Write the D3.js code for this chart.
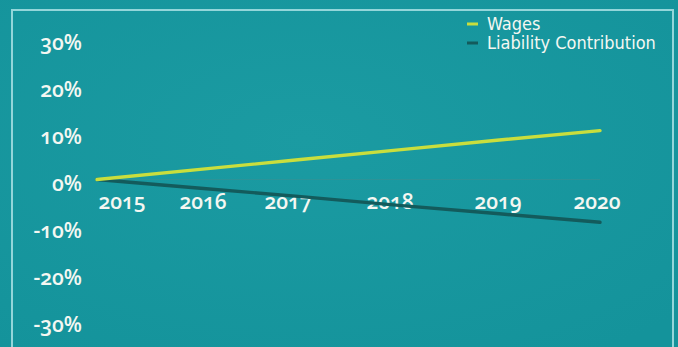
<!DOCTYPE html>
<html>
<head>
<meta charset="utf-8">
<script src="https://cdn.jsdelivr.net/npm/d3@7"></script>
<style>
  html, body { margin: 0; padding: 0; background: #1a979d; }
  svg { display: block; }
  .num { font-family: "Open Sans", sans-serif; font-feature-settings: "onum" 1; font-weight: 600; fill: #f4f7f2; }
  .leg { font-family: "Liberation Sans Narrow", "DejaVu Sans Condensed", sans-serif; fill: #f4f7f2; }
</style>
</head>
<body>
<svg id="chart" width="678" height="347"></svg>
<script>
// Annual change since 2015, in percent
const years = [2015, 2016, 2017, 2018, 2019, 2020];
const wages = [0, 2.1, 4.2, 6.3, 8.4, 10.4];
const liability = [0, -1.8, -3.6, -5.5, -7.3, -9.1];
const yTicks = [30, 20, 10, 0, -10, -20, -30];
const seriesNames = ["Wages", "Liability Contribution"];
const seriesColors = ["#c9de3d", "#135b5c"];

const W = 678, H = 347;
const svg = d3.select("#chart");

// background with a soft darker edge
const defs = svg.append("defs");
const bg = defs.append("radialGradient").attr("id", "bg").attr("cx", "45%").attr("cy", "40%").attr("r", "75%");
bg.append("stop").attr("offset", "0%").attr("stop-color", "#1b9ba2");
bg.append("stop").attr("offset", "100%").attr("stop-color", "#14939b");
svg.append("rect").attr("width", W).attr("height", H).attr("fill", "url(#bg)");

// panel frame (open at the bottom)
svg.append("path")
  .attr("d", "M12,347 V10 H673 V347")
  .attr("fill", "none").attr("stroke", "#93d6da").attr("stroke-width", 2);

// scales
const x = d3.scaleLinear().domain([2015, 2020]).range([97, 600]);
const y = d3.scaleLinear().domain([-30, 30]).range([320.5, 38.5]);
// year labels sit at their own spots along the baseline
const xLabel = d3.scaleLinear().domain(years).range([122, 203, 288, 390, 498, 597]);

// y tick labels
svg.append("g").selectAll("text").data(yTicks).join("text")
  .attr("class", "num")
  .attr("x", 82)
  .attr("y", d => y(d) + 4)
  .attr("dy", "0.35em")
  .attr("text-anchor", "end")
  .attr("font-size", 21)
  .text(d => d + "%");

// faint zero baseline
svg.append("line")
  .attr("x1", x(2015)).attr("x2", x(2020))
  .attr("y1", y(0)).attr("y2", y(0))
  .attr("stroke", "#3f8f90").attr("stroke-width", 1).attr("opacity", 0.5);

// year labels
svg.append("g").selectAll("text").data(years).join("text")
  .attr("class", "num")
  .attr("x", d => xLabel(d))
  .attr("y", 209)
  .attr("text-anchor", "middle")
  .attr("font-size", 21)
  .text(d => d);

// lines
const line = d3.line().x((d, i) => x(years[i])).y(d => y(d));
[[liability, seriesColors[1]], [wages, seriesColors[0]]].forEach(([s, color]) => {
  svg.append("path")
    .attr("d", line(s))
    .attr("fill", "none")
    .attr("stroke", color)
    .attr("stroke-width", 3.4)
    .attr("stroke-linecap", "round");
});

// legend
const leg = svg.append("g").attr("transform", "translate(467,0)");
seriesNames.forEach((name, i) => {
  const cy = 24 + i * 19;
  leg.append("line")
    .attr("x1", 0).attr("x2", 11).attr("y1", cy).attr("y2", cy)
    .attr("stroke", seriesColors[i]).attr("stroke-width", 3);
  leg.append("text")
    .attr("class", "leg")
    .attr("x", 20).attr("y", cy + 6)
    .attr("font-size", 18)
    .text(name);
});
</script>
</body>
</html>
